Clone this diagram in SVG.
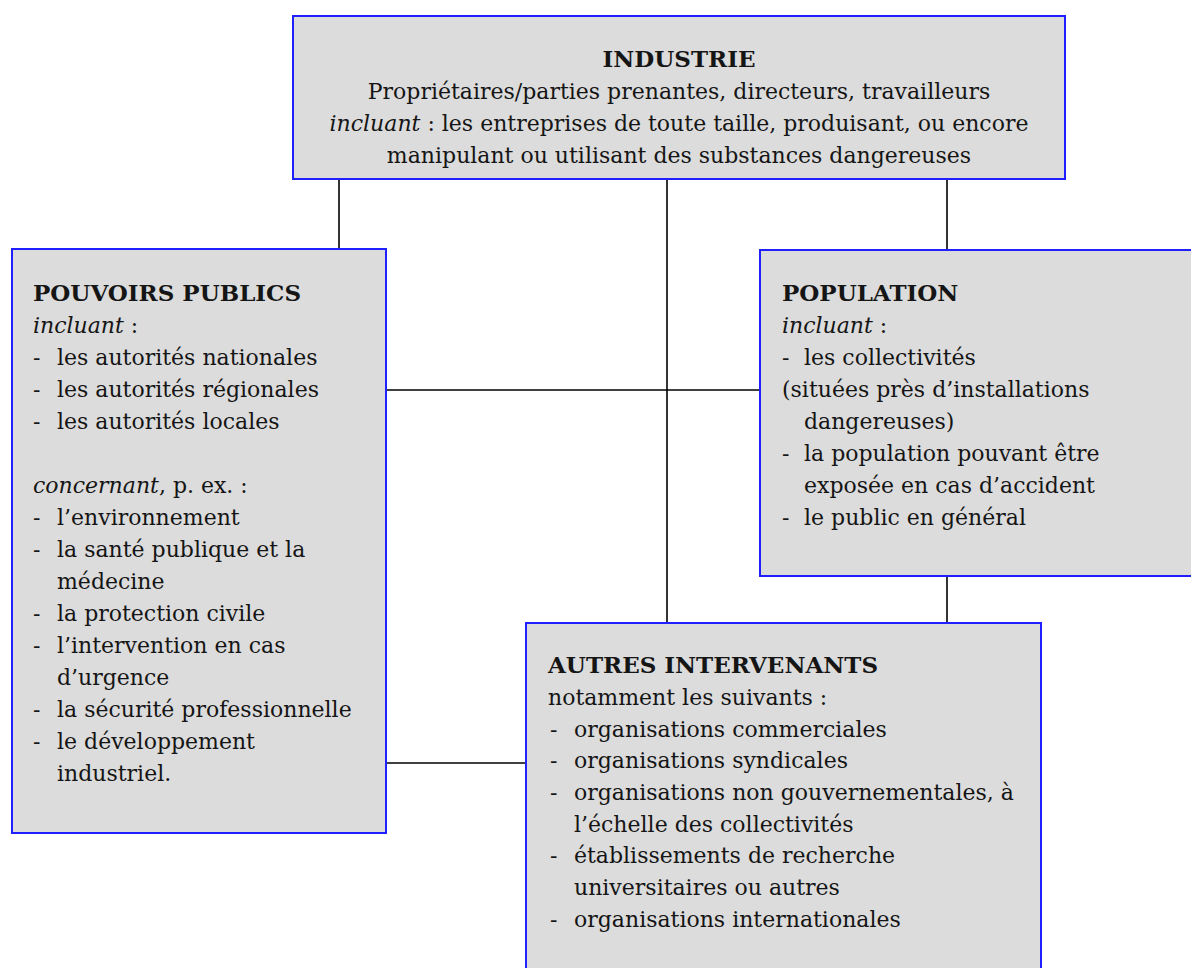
<svg xmlns="http://www.w3.org/2000/svg" width="1191" height="968" viewBox="0 0 1191 968">
<style>
.box{fill:#dcdcdc;stroke:#1f1fff;stroke-width:2}
.t{font-family:"DejaVu Serif","Liberation Serif",serif;font-size:22px;fill:#151515}
.b{font-weight:bold;font-size:23px}
.i{font-style:italic}
.c{text-anchor:middle}
.ln{stroke:#000;stroke-width:1.6;fill:none}
</style>
<rect width="1191" height="968" fill="#fff"/>
<g id="connectors">
<line class="ln" x1="339" y1="179" x2="339" y2="249"/>
<line class="ln" x1="667" y1="179" x2="667" y2="623"/>
<line class="ln" x1="947" y1="179" x2="947" y2="250"/>
<line class="ln" x1="386" y1="390" x2="760" y2="390"/>
<line class="ln" x1="386" y1="763" x2="526" y2="763"/>
<line class="ln" x1="947" y1="576" x2="947" y2="623"/>
</g>
<g id="industrie">
<rect class="box" x="293" y="16" width="772" height="163"/>
<text class="t b c" x="679" y="67">INDUSTRIE</text>
<text class="t c" x="679" y="99">Propriétaires/parties prenantes, directeurs, travailleurs</text>
<text class="t c" x="679" y="131"><tspan class="i">incluant</tspan> : les entreprises de toute taille, produisant, ou encore</text>
<text class="t c" x="679" y="163">manipulant ou utilisant des substances dangereuses</text>
</g>
<g id="pouvoirs-publics">
<rect class="box" x="12" y="249" width="374" height="584"/>
<text class="t b" x="33" y="301">POUVOIRS PUBLICS</text>
<text class="t" x="33" y="333"><tspan class="i">incluant</tspan> :</text>
<text class="t" x="33" y="365">-</text><text class="t" x="57" y="365">les autorités nationales</text>
<text class="t" x="33" y="397">-</text><text class="t" x="57" y="397">les autorités régionales</text>
<text class="t" x="33" y="429">-</text><text class="t" x="57" y="429">les autorités locales</text>
<text class="t" x="33" y="493"><tspan class="i">concernant</tspan>, p. ex. :</text>
<text class="t" x="33" y="525">-</text><text class="t" x="57" y="525">l’environnement</text>
<text class="t" x="33" y="557">-</text><text class="t" x="57" y="557">la santé publique et la</text>
<text class="t" x="57" y="589">médecine</text>
<text class="t" x="33" y="621">-</text><text class="t" x="57" y="621">la protection civile</text>
<text class="t" x="33" y="653">-</text><text class="t" x="57" y="653">l’intervention en cas</text>
<text class="t" x="57" y="685">d’urgence</text>
<text class="t" x="33" y="717">-</text><text class="t" x="57" y="717">la sécurité professionnelle</text>
<text class="t" x="33" y="749">-</text><text class="t" x="57" y="749">le développement</text>
<text class="t" x="57" y="781">industriel.</text>
</g>
<g id="population">
<rect class="box" x="760" y="250" width="440" height="326"/>
<text class="t b" x="782" y="301">POPULATION</text>
<text class="t" x="782" y="333"><tspan class="i">incluant</tspan> :</text>
<text class="t" x="782" y="365">-</text><text class="t" x="804" y="365">les collectivités</text>
<text class="t" x="782" y="397">(situées près d’installations</text>
<text class="t" x="804" y="429">dangereuses)</text>
<text class="t" x="782" y="461">-</text><text class="t" x="804" y="461">la population pouvant être</text>
<text class="t" x="804" y="493">exposée en cas d’accident</text>
<text class="t" x="782" y="525">-</text><text class="t" x="804" y="525">le public en général</text>
</g>
<g id="autres-intervenants">
<rect class="box" x="526" y="623" width="515" height="360"/>
<text class="t b" x="548" y="673">AUTRES INTERVENANTS</text>
<text class="t" x="548" y="705">notamment les suivants :</text>
<text class="t" x="550" y="737">-</text><text class="t" x="574" y="737">organisations commerciales</text>
<text class="t" x="550" y="768">-</text><text class="t" x="574" y="768">organisations syndicales</text>
<text class="t" x="550" y="800">-</text><text class="t" x="574" y="800">organisations non gouvernementales, à</text>
<text class="t" x="574" y="832">l’échelle des collectivités</text>
<text class="t" x="550" y="863">-</text><text class="t" x="574" y="863">établissements de recherche</text>
<text class="t" x="574" y="895">universitaires ou autres</text>
<text class="t" x="550" y="927">-</text><text class="t" x="574" y="927">organisations internationales</text>
</g>
</svg>
